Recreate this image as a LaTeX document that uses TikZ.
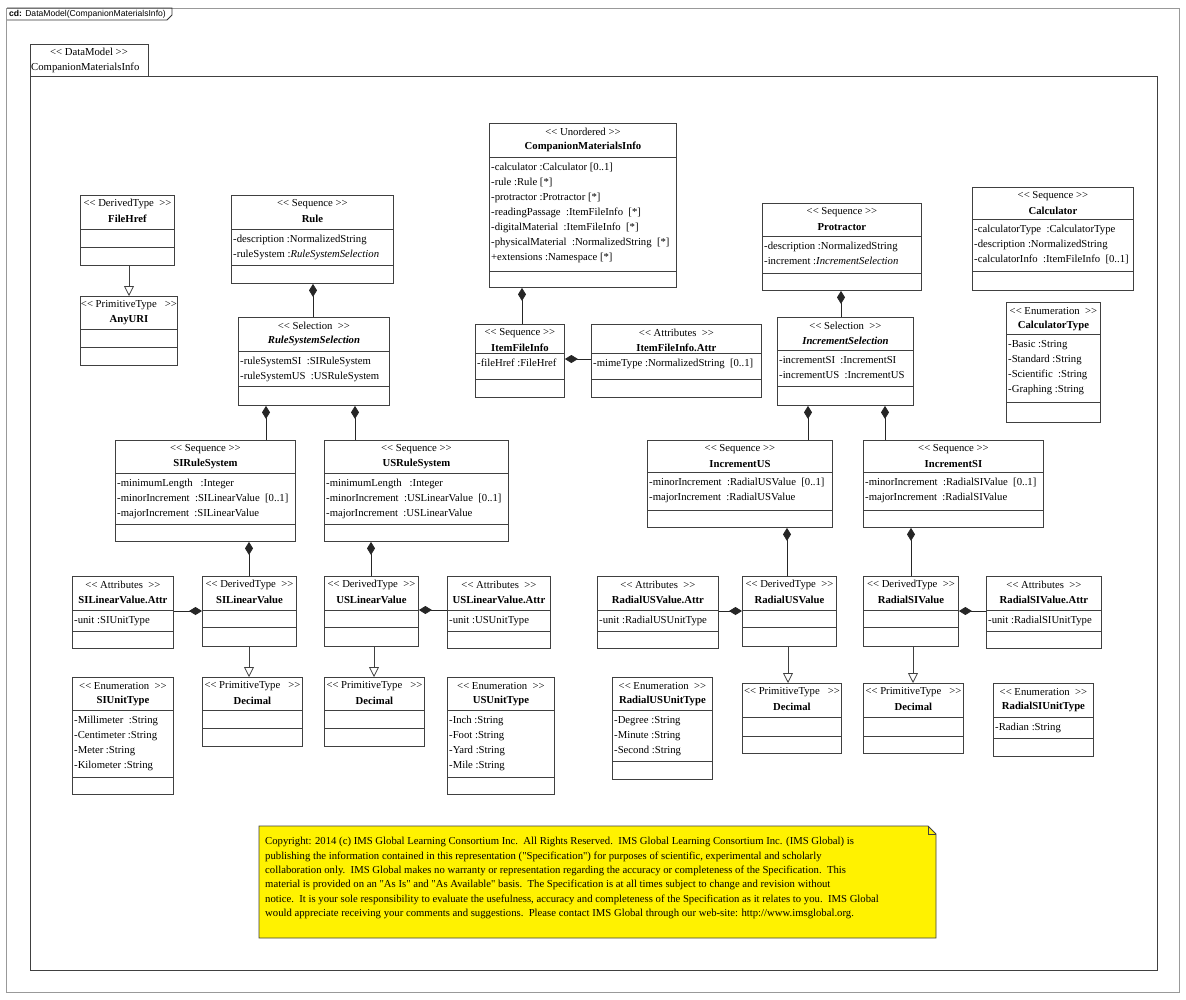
\documentclass[tikz,border=0pt]{standalone}
\usepackage{fontspec}
\setmainfont{Liberation Serif}
\newfontfamily\framefont{Liberation Sans}
\newfontfamily\notefont{Liberation Serif}
\usetikzlibrary{arrows.meta}

\newcommand{\stype}[1]{<{}< #1 >{}>}
% class box: name, top left, width, height, header, attribute line, stereotype, title, attributes
\newcommand{\umlclass}[9]{%
  \node[clsbox,minimum width=#3,minimum height=#4,anchor=north west] (#1) at #2 {};
  \draw[clsline] ([yshift=-#5]#1.north west) -- ([yshift=-#5]#1.north east);
  \draw[clsline] ([yshift=-#6]#1.north west) -- ([yshift=-#6]#1.north east);
  \node[clstext] at ([yshift=-9]#1.north) {\stype{#7}};
  \node[clstext] at ([yshift=-24]#1.north) {\bfseries #8};
  \foreach \a [count=\i] in {#9} {\node[clstext,anchor=base west] at ([xshift=2,yshift=-(#5+13+15*(\i-1))]#1.north west) {\a};}
}

\begin{document}
\begin{tikzpicture}[x=1pt,y=-1pt,
  clsbox/.style={draw=black!75,line width=0.9pt,inner sep=0pt,fill=white},
  clsline/.style={draw=black!75,line width=0.9pt},
  clstext/.style={inner sep=0pt,font=\fontsize{10.7}{13}\selectfont},
  comp/.style={draw=black!85,line width=0.8pt,-{Diamond[length=13pt,width=8pt]}},
  gen/.style={draw=black!75,line width=0.8pt,-{Triangle[open,length=10pt,width=10pt,fill=white]}}]
\useasboundingbox (0,0) rectangle (1186,999);
\fill[white] (0,0) rectangle (1186,999);
\draw[black!40,line width=0.8pt] (6,8) rectangle (1179,992);
\draw[black!80,line width=0.8pt] (7,8) -- (172,8) -- (172,15) -- (167,20) -- (7,20);
\node[anchor=west,inner sep=0pt,font=\framefont\fontsize{8.6}{10}\selectfont] (framelabel) at (9,14) {\textbf{cd:} DataModel(CompanionMaterialsInfo)};
\draw[black!75,line width=0.9pt] (30,44) rectangle (148,76);
\draw[black!75,line width=0.9pt] (30,76) rectangle (1157,970);
\node[clstext] (pkgstereo) at (89,52) {\stype{DataModel}};
\node[clstext,anchor=west] (pkgname) at (31,68) {CompanionMaterialsInfo};

\umlclass{FileHref}{(80,195)}{94}{70}{34}{52}{DerivedType\ }{FileHref}{}
\umlclass{AnyURI}{(80,296)}{97}{69}{33}{51}{PrimitiveType\ \ }{AnyURI}{}
\umlclass{Rule}{(231,195)}{162}{88}{34}{70}{Sequence}{Rule}{-description :NormalizedString,
  -ruleSystem :\textit{RuleSystemSelection}}
\umlclass{RSS}{(238,317)}{151}{88}{34}{69}{Selection\ }{\itshape RuleSystemSelection}{-ruleSystemSI\ \ :SIRuleSystem,
  -ruleSystemUS\ \ :USRuleSystem}
\umlclass{CMI}{(489,123)}{187}{164}{34}{148}{Unordered}{CompanionMaterialsInfo}{-calculator :Calculator [0..1],
  -rule :Rule [*], -protractor :Protractor [*], -readingPassage\ \ :ItemFileInfo\ \ [*],
  -digitalMaterial\ \ :ItemFileInfo\ \ [*], -physicalMaterial\ \ :NormalizedString\ \ [*],
  +extensions :Namespace [*]}
\umlclass{ItemFileInfo}{(475,324)}{89}{73}{29}{55}{Sequence}{ItemFileInfo}{-fileHref :FileHref}
\umlclass{ItemFileInfoAttr}{(591,324)}{170}{73}{29}{55}{Attributes\ }{ItemFileInfo.Attr}{-mimeType :NormalizedString\ \ [0..1]}
\umlclass{Protractor}{(762,203)}{159}{87}{33}{70}{Sequence}{Protractor}{-description :NormalizedString,
  -increment :\textit{IncrementSelection}}
\umlclass{Calculator}{(972,187)}{161}{103}{32}{84}{Sequence}{Calculator}{-calculatorType\ \ :CalculatorType,
  -description :NormalizedString, -calculatorInfo\ \ :ItemFileInfo\ \ [0..1]}
\umlclass{IncrementSelection}{(777,317)}{136}{88}{33}{69}{Selection\ }{\itshape IncrementSelection}{-incrementSI\ \ :IncrementSI,
  -incrementUS\ \ :IncrementUS}
\umlclass{CalculatorType}{(1006,302)}{94}{120}{32}{100}{Enumeration\ }{CalculatorType}{-Basic :String,
  -Standard :String, -Scientific\ \ :String, -Graphing :String}

\umlclass{SIRuleSystem}{(115,440)}{180}{101}{33}{84}{Sequence}{SIRuleSystem}{-minimumLength\ \ \ :Integer,
  -minorIncrement\ \ :SILinearValue\ \ [0..1], -majorIncrement\ \ :SILinearValue}
\umlclass{USRuleSystem}{(324,440)}{184}{101}{33}{84}{Sequence}{USRuleSystem}{-minimumLength\ \ \ :Integer,
  -minorIncrement\ \ :USLinearValue\ \ [0..1], -majorIncrement\ \ :USLinearValue}
\umlclass{IncrementUS}{(647,440)}{185}{87}{32}{70}{Sequence}{IncrementUS}{-minorIncrement\ \ :RadialUSValue\ \ [0..1],
  -majorIncrement\ \ :RadialUSValue}
\umlclass{IncrementSI}{(863,440)}{180}{87}{32}{70}{Sequence}{IncrementSI}{-minorIncrement\ \ :RadialSIValue\ \ [0..1],
  -majorIncrement\ \ :RadialSIValue}

\umlclass{SILinearValueAttr}{(72,576)}{101}{72}{34}{55}{Attributes\ }{SILinearValue.Attr}{-unit :SIUnitType}
\umlclass{SILinearValue}{(202,576)}{94}{70}{34}{51}{DerivedType\ }{SILinearValue}{}
\umlclass{USLinearValue}{(324,576)}{94}{70}{34}{51}{DerivedType\ }{USLinearValue}{}
\umlclass{USLinearValueAttr}{(447,576)}{103}{72}{34}{55}{Attributes\ }{USLinearValue.Attr}{-unit :USUnitType}
\umlclass{SIUnitType}{(72,677)}{101}{117}{33}{100}{Enumeration\ }{SIUnitType}{-Millimeter\ \ :String,
  -Centimeter :String, -Meter :String, -Kilometer :String}
\umlclass{DecimalSI}{(202,677)}{100}{69}{33}{51}{PrimitiveType\ \ }{Decimal}{}
\umlclass{DecimalUS}{(324,677)}{100}{69}{33}{51}{PrimitiveType\ \ }{Decimal}{}
\umlclass{USUnitType}{(447,677)}{107}{117}{33}{100}{Enumeration\ }{USUnitType}{-Inch :String,
  -Foot :String, -Yard :String, -Mile :String}

\umlclass{RadialUSValueAttr}{(597,576)}{121}{72}{34}{55}{Attributes\ }{RadialUSValue.Attr}{-unit :RadialUSUnitType}
\umlclass{RadialUSValue}{(742,576)}{94}{70}{34}{51}{DerivedType\ }{RadialUSValue}{}
\umlclass{RadialSIValue}{(863,576)}{95}{70}{34}{51}{DerivedType\ }{RadialSIValue}{}
\umlclass{RadialSIValueAttr}{(986,576)}{115}{72}{34}{55}{Attributes\ }{RadialSIValue.Attr}{-unit :RadialSIUnitType}
\umlclass{RadialUSUnitType}{(612,677)}{100}{102}{33}{84}{Enumeration\ }{RadialUSUnitType}{-Degree :String,
  -Minute :String, -Second :String}
\umlclass{DecimalRUS}{(742,683)}{99}{70}{34}{53}{PrimitiveType\ \ }{Decimal}{}
\umlclass{DecimalRSI}{(863,683)}{100}{70}{34}{53}{PrimitiveType\ \ }{Decimal}{}
\umlclass{RadialSIUnitType}{(993,683)}{100}{73}{34}{55}{Enumeration\ }{RadialSIUnitType}{-Radian :String}

\draw[gen] (FileHref.south -| 129,0) -- (AnyURI.north -| 129,0);
\draw[comp] (RSS.north -| 313,0) -- (Rule.south -| 313,0);
\draw[comp] (SIRuleSystem.north -| 266,0) -- (RSS.south -| 266,0);
\draw[comp] (USRuleSystem.north -| 355,0) -- (RSS.south -| 355,0);
\draw[comp] (ItemFileInfo.north -| 522,0) -- (CMI.south -| 522,0);
\draw[comp] (ItemFileInfoAttr.west |- 0,359) -- (ItemFileInfo.east |- 0,359);
\draw[comp] (IncrementSelection.north -| 841,0) -- (Protractor.south -| 841,0);
\draw[comp] (IncrementUS.north -| 808,0) -- (IncrementSelection.south -| 808,0);
\draw[comp] (IncrementSI.north -| 885,0) -- (IncrementSelection.south -| 885,0);
\draw[comp] (SILinearValue.north -| 249,0) -- (SIRuleSystem.south -| 249,0);
\draw[comp] (USLinearValue.north -| 371,0) -- (USRuleSystem.south -| 371,0);
\draw[comp] (SILinearValueAttr.east |- 0,611) -- (SILinearValue.west |- 0,611);
\draw[comp] (USLinearValueAttr.west |- 0,610) -- (USLinearValue.east |- 0,610);
\draw[gen] (SILinearValue.south -| 249,0) -- (DecimalSI.north -| 249,0);
\draw[gen] (USLinearValue.south -| 374,0) -- (DecimalUS.north -| 374,0);
\draw[comp] (RadialUSValue.north -| 787,0) -- (IncrementUS.south -| 787,0);
\draw[comp] (RadialSIValue.north -| 911,0) -- (IncrementSI.south -| 911,0);
\draw[comp] (RadialUSValueAttr.east |- 0,611) -- (RadialUSValue.west |- 0,611);
\draw[comp] (RadialSIValueAttr.west |- 0,611) -- (RadialSIValue.east |- 0,611);
\draw[gen] (RadialUSValue.south -| 788,0) -- (DecimalRUS.north -| 788,0);
\draw[gen] (RadialSIValue.south -| 913,0) -- (DecimalRSI.north -| 913,0);

\draw[black!75,line width=0.9pt,fill=yellow] (259,826) -- (928,826) -- (936,834) -- (936,938) -- (259,938) -- cycle;
\draw[black!75,line width=0.7pt] (928,826) -- (928,834) -- (936,834);
\node[clstext,anchor=north west,align=left,font=\notefont\fontsize{10.7}{14.4}\selectfont] (note) at (265,837) {Copyright: 2014 (c) IMS Global Learning Consortium Inc.\ \ All Rights Reserved.\ \ IMS Global Learning Consortium Inc. (IMS Global) is\\
publishing the information contained in this representation ("Specification") for purposes of scientific, experimental and scholarly\\
collaboration only.\ \ IMS Global makes no warranty or representation regarding the accuracy or completeness of the Specification.\ \ This\\
material is provided on an "As Is" and "As Available" basis.\ \ The Specification is at all times subject to change and revision without\\
notice.\ \ It is your sole responsibility to evaluate the usefulness, accuracy and completeness of the Specification as it relates to you.\ \ IMS Global\\
would appreciate receiving your comments and suggestions.\ \ Please contact IMS Global through our web-site: http://www.imsglobal.org.};
\end{tikzpicture}
\end{document}
